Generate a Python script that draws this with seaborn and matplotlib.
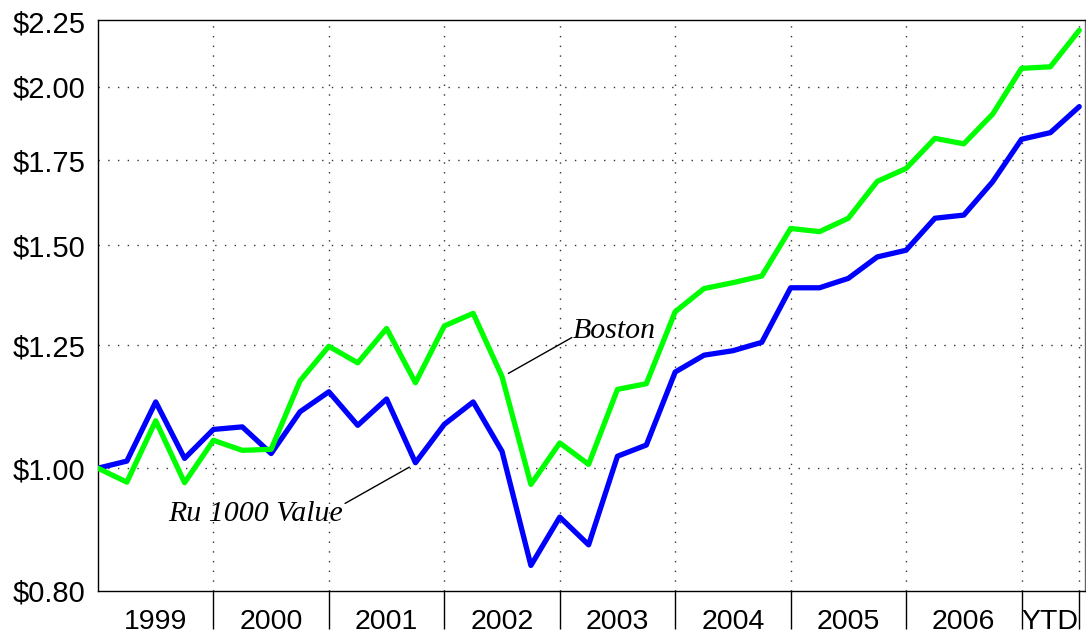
import numpy as np
import pandas as pd
import matplotlib
matplotlib.use("Agg")
import matplotlib.pyplot as plt
from matplotlib.ticker import FixedLocator, NullLocator, FixedFormatter, NullFormatter
import seaborn as sns

# ---- data ----
years = ["1999", "2000", "2001", "2002", "2003", "2004", "2005", "2006", "YTD"]
quarters = list(range(35))
boston = [1.00, 0.975, 1.090, 0.974, 1.052, 1.033, 1.035, 1.172, 1.248, 1.211,
          1.289, 1.168, 1.295, 1.325, 1.181, 0.971, 1.047, 1.007, 1.154, 1.166,
          1.329, 1.386, 1.401, 1.418, 1.546, 1.537, 1.575, 1.684, 1.724, 1.821,
          1.803, 1.903, 2.068, 2.074, 2.216]
russell = [1.00, 1.013, 1.128, 1.018, 1.073, 1.078, 1.027, 1.108, 1.149, 1.081,
           1.134, 1.010, 1.083, 1.128, 1.031, 0.838, 0.915, 0.870, 1.022, 1.043,
           1.191, 1.228, 1.238, 1.257, 1.388, 1.388, 1.412, 1.468, 1.486, 1.575,
           1.584, 1.683, 1.818, 1.840, 1.929]
y_ticks = [0.80, 1.00, 1.25, 1.50, 1.75, 2.00, 2.25]
y_labels = ["$0.80", "$1.00", "$1.25", "$1.50", "$1.75", "$2.00", "$2.25"]
year_bounds = [4, 8, 12, 16, 20, 24, 28, 32, 34]
year_centers = [2, 6, 10, 14, 18, 22, 26, 30, 33]

df = pd.DataFrame({
    "q": quarters * 2,
    "value": russell + boston,
    "series": ["Ru 1000 Value"] * len(russell) + ["Boston"] * len(boston),
})

sns.set_style("white")
plt.rcParams["font.family"] = ["Liberation Sans", "DejaVu Sans"]
plt.rcParams["text.color"] = "black"

fig = plt.figure(figsize=(10.86, 6.34), dpi=100)
ax = fig.add_axes([98 / 1086, 1 - 591 / 634, (1085 - 98) / 1086, (591 - 20) / 634])

sns.lineplot(data=df, x="q", y="value", hue="series",
             palette={"Ru 1000 Value": "#0000ff", "Boston": "#00ff00"},
             linewidth=3.8, legend=False, ax=ax, zorder=3)

ax.set_yscale("log")
ax.set_ylim(0.80, 2.258)
ax.set_xlim(0, 34.2)

# y axis
ax.yaxis.set_major_locator(FixedLocator(y_ticks))
ax.yaxis.set_major_formatter(FixedFormatter(y_labels))
ax.yaxis.set_minor_locator(NullLocator())
ax.tick_params(axis="y", which="major", left=False, length=0, pad=9,
               labelsize=21, labelcolor="black")

# x axis: separators as major ticks, year labels as minor ticks
ax.xaxis.set_major_locator(FixedLocator(year_bounds))
ax.xaxis.set_major_formatter(NullFormatter())
ax.xaxis.set_minor_locator(FixedLocator(year_centers))
ax.xaxis.set_minor_formatter(FixedFormatter(years))
ax.tick_params(axis="x", which="major", bottom=True, length=27, width=1,
               direction="out", color="black")
ax.tick_params(axis="x", which="minor", bottom=True, length=0, pad=13,
               labelsize=20.5, labelcolor="black")
ax.set_xlabel("")
ax.set_ylabel("")

# grid
for yv in [1.00, 1.25, 1.50, 1.75, 2.00]:
    ax.axhline(yv, color="#333333", linestyle=(0, (1, 6)), linewidth=1, zorder=1)
for xv in year_bounds:
    ax.axvline(xv, color="#333333", linestyle=(0, (1, 6)), linewidth=1, zorder=1)

for s in ax.spines.values():
    s.set_color("black")
    s.set_linewidth(1)
ax.spines["right"].set_color("#666666")

# annotations
serif = dict(family=["Liberation Serif", "DejaVu Serif"], style="italic", size=21.5,
             color="black")
ax.annotate("", xy=(14.22, 1.188), xytext=(16.42, 1.268),
            arrowprops=dict(arrowstyle="-", color="black", lw=1, shrinkA=0, shrinkB=0))
ax.text(16.45, 1.268, "Boston", ha="left", va="baseline", fontdict=serif)
ax.annotate("", xy=(10.79, 1.002), xytext=(8.56, 0.938),
            arrowprops=dict(arrowstyle="-", color="black", lw=1, shrinkA=0, shrinkB=0))
ax.text(8.50, 0.908, "Ru 1000 Value", ha="right", va="baseline", fontdict=serif)

fig.savefig("out.png", dpi=100)
